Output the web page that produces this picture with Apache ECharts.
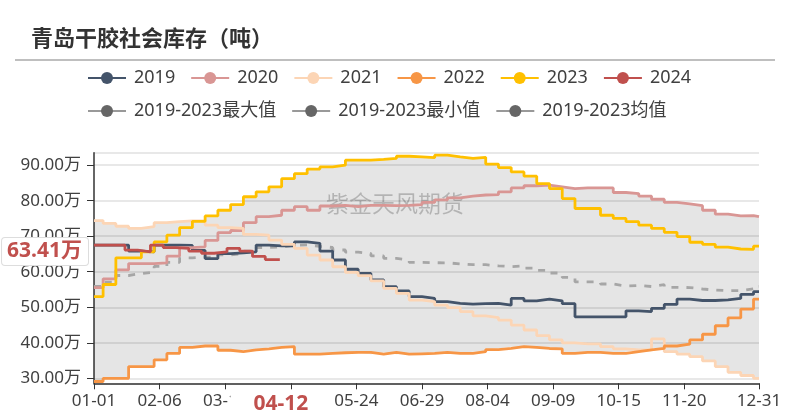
<!DOCTYPE html>
<html><head><meta charset="utf-8">
<script src="https://cdn.jsdelivr.net/npm/echarts@6/dist/echarts.min.js"></script>
<style>html,body{margin:0;padding:0;background:#fff}#c{width:790px;height:420px}</style>
</head><body><div id="c"></div>
<script>
const titleText = '青岛干胶社会库存（吨）';
const watermarkText = '紫金天风期货';
const seriesNames = ['2019','2020','2021','2022','2023','2024'];
const bandNames = ['2019-2023最大值','2019-2023最小值','2019-2023均值'];
// weekly inventory, unit: 万吨
const v2019 = [67.5,67.5,67.5,65.8,65.6,67.5,67.5,67.4,66.0,63.7,65.1,65.3,65.6,67.5,67.3,67.3,68.4,68.0,65.8,63.3,60.7,59.5,57.7,55.8,54.6,53.0,52.5,51.6,51.1,50.9,51.0,51.1,50.6,52.5,51.8,52.3,51.8,51.0,47.3,47.3,47.3,47.3,49.0,48.8,49.7,50.8,52.3,51.9,51.9,52.1,52.5,53.6,54.4];
const v2020 = [55.5,58.0,60.5,62.3,62.3,62.5,64.4,66.8,67.0,68.8,71.0,71.6,73.8,75.5,75.9,77.3,78.3,77.3,78.5,78.7,78.3,78.7,78.7,78.6,78.7,78.9,79.5,80.2,80.8,81.3,81.6,81.7,82.5,83.6,84.2,84.4,83.9,83.4,83.6,83.6,83.6,82.3,82.0,81.3,80.4,79.5,79.1,78.6,77.3,76.2,75.7,75.8,75.5];
const v2021 = [74.4,73.6,72.8,72.2,72.7,73.8,74.1,74.3,74.3,73.1,72.4,72.2,70.5,70.3,68.9,67.7,66.6,64.7,63.3,61.4,59.8,58.9,57.4,55.3,53.9,52.0,51.6,50.6,49.9,48.8,47.6,47.1,46.4,45.0,43.6,42.0,40.8,40.0,39.7,39.7,38.9,38.3,38.0,38.0,41.1,37.5,36.8,36.1,34.9,33.3,31.7,30.8,30.0];
const v2022 = [29.1,30.0,30.0,33.3,33.3,35.2,37.0,38.7,39.1,39.1,37.9,37.5,38.0,38.3,38.7,38.9,36.8,36.8,37.0,37.2,37.3,37.3,36.8,37.3,36.8,36.9,37.0,37.3,37.0,37.0,37.5,38.1,38.4,38.9,38.7,38.4,38.3,37.0,37.3,37.3,37.0,37.0,37.5,38.0,38.4,39.1,39.6,40.8,42.4,44.8,47.0,49.5,52.3];
const v2023 = [53.0,56.4,63.9,63.9,65.6,68.4,70.3,72.4,74.2,75.7,77.3,78.9,81.1,82.5,83.9,86.2,87.6,88.9,89.5,90.0,91.4,91.4,91.6,91.9,92.5,92.3,92.1,92.8,92.3,91.9,92.2,90.3,89.3,88.1,86.9,84.8,83.4,80.6,77.8,77.8,75.9,75.0,74.1,73.1,72.2,71.1,69.9,68.3,67.7,66.9,66.4,66.3,67.2];
const v2024 = [67.5,67.5,67.5,66.1,65.6,67.5,66.8,66.6,65.8,65.2,65.6,66.6,65.8,64.3,63.41];
const pointerDay = '04-12';
const pointerY = 65.7;

// daily categories (leap-year calendar)
const days = [];
for (let i = 0; i < 366; i++) {
  const d = new Date(Date.UTC(2024, 0, 1 + i));
  days.push(String(d.getUTCMonth() + 1).padStart(2, '0') + '-' + String(d.getUTCDate()).padStart(2, '0'));
}
const weekIdx = [0]; for (let d = 5; d <= 362; d += 7) weekIdx.push(d);
const weekIdx24 = [0]; for (let d = 3; d <= 94; d += 7) weekIdx24.push(d);
function toPoints(idxs, vals, endIdx) {
  const pts = idxs.map((d, i) => [days[d], vals[i]]);
  pts.push([days[endIdx], vals[vals.length - 1]]);
  return pts;
}
const years = [v2019, v2020, v2021, v2022, v2023];
const vMax = v2019.map((_, i) => Math.max(...years.map(a => a[i])));
const vMin = v2019.map((_, i) => Math.min(...years.map(a => a[i])));
const vAvg = v2019.map((_, i) => years.reduce((s, a) => s + a[i], 0) / years.length);
const vSpan = vMax.map((m, i) => m - vMin[i]);

const colors = ['#44546a', '#d99694', '#fcd5b5', '#f79646', '#ffc000', '#c0504d'];
const yearVals = [v2019, v2020, v2021, v2022, v2023, v2024];
const FONT = '"Noto Sans", "Noto Sans CJK SC", sans-serif';

const series = [
  { name: bandNames[1], type: 'line', step: 'end', stack: 'band', data: toPoints(weekIdx, vMin, 365),
    showSymbol: false, symbol: 'circle', lineStyle: { opacity: 0 }, itemStyle: { color: '#666' }, silent: true, z: 1 },
  { name: bandNames[0], type: 'line', step: 'end', stack: 'band', data: toPoints(weekIdx, vSpan, 365),
    showSymbol: false, symbol: 'circle', lineStyle: { opacity: 0 }, itemStyle: { color: '#666' },
    areaStyle: { color: 'rgba(0,0,0,0.1)', opacity: 1 }, silent: true, z: 1 },
  { name: bandNames[2], type: 'line', step: 'end', data: toPoints(weekIdx, vAvg, 365),
    showSymbol: false, symbol: 'circle', itemStyle: { color: '#666' },
    lineStyle: { color: '#a6a6a6', width: 2.8, type: [7, 8] }, z: 2 }
];
yearVals.forEach((vals, k) => {
  const is24 = k === 5;
  series.push({
    name: seriesNames[k], type: 'line', step: 'end',
    data: is24 ? toPoints(weekIdx24, vals, days.indexOf(pointerDay)) : toPoints(weekIdx, vals, 365),
    showSymbol: false, symbol: 'circle', itemStyle: { color: colors[k] },
    lineStyle: { color: colors[k], width: 2.8 }, z: 3
  });
});

const legendData = seriesNames.map(n => ({ name: n }))
  .concat(bandNames.map(n => ({ name: n, itemStyle: { color: '#666' }, lineStyle: { color: '#999', width: 2, opacity: 1, type: 'solid' } })));

const chart = echarts.init(document.getElementById('c'), null, { renderer: 'canvas' });
chart.setOption({
  animation: false,
  title: { text: titleText, left: 26, top: 22, textStyle: { fontSize: 22, fontWeight: 'bold', color: '#333', fontFamily: '"Noto Sans CJK SC", sans-serif' } },
  graphic: [
    { type: 'line', shape: { x1: 15, y1: 60, x2: 775, y2: 60 }, style: { stroke: '#aaa', lineWidth: 1.5 }, z: 10 },
    { type: 'text', x: 395, y: 203, z: 1, style: { text: watermarkText, fontSize: 23, fill: 'rgba(0,0,0,0.22)', align: 'center', verticalAlign: 'middle', fontFamily: '"Noto Sans CJK SC", sans-serif' } }
  ],
  legend: {
    data: legendData, left: 82, top: 64, width: 620, itemWidth: 38, itemHeight: 15, itemGap: 15,
    textStyle: { fontSize: 18, color: '#404040', fontFamily: FONT, padding: [0, 0, 0, 3] }
  },
  grid: { left: 94, right: 31, top: 152.7, bottom: 36.7, containLabel: false },
  xAxis: {
    type: 'category', data: days, boundaryGap: false,
    axisLine: { lineStyle: { color: '#333', width: 1.5 } },
    axisTick: { length: 6, lineStyle: { color: '#333' }, interval: (i) => (i % 36 === 0 && i <= 330) || i === 365 },
    axisLabel: { fontSize: 17, color: '#404040', fontFamily: FONT, margin: 9, interval: (i) => (i % 36 === 0 && i <= 330) || i === 365 },
    splitLine: { show: false },
    axisPointer: {
      show: true, type: 'line', value: days.indexOf(pointerDay), status: 'show', triggerTooltip: false,
      lineStyle: { color: 'rgba(0,0,0,0)' },
      label: { show: true, fontSize: 21, fontWeight: 'bold', color: '#c0504d', backgroundColor: '#fff', padding: [3, 21, 3, 23], margin: 7, fontFamily: FONT }
    }
  },
  yAxis: {
    type: 'value', min: 28.6, max: 93.5,
    axisLine: { show: true, lineStyle: { color: '#333', width: 1.5 } },
    axisTick: { show: true, length: 7, lineStyle: { color: '#333' } },
    axisLabel: { fontSize: 17, color: '#404040', fontFamily: FONT, margin: 13, showMinLabel: false, showMaxLabel: false,
      formatter: (v) => v.toFixed(2) + '万' },
    splitLine: { lineStyle: { color: '#e8e8e8', width: 2 } },
    axisPointer: {
      show: true, type: 'line', value: pointerY, status: 'show', triggerTooltip: false,
      lineStyle: { color: 'rgba(0,0,0,0)' },
      label: { show: true, fontSize: 21, fontWeight: 'bold', color: '#c0504d', backgroundColor: '#fff',
        borderColor: '#ddd', borderWidth: 1, padding: [3, 6, 3, 5], margin: 6, fontFamily: FONT,
        formatter: () => v2024[v2024.length - 1].toFixed(2) + '万' }
    }
  },
  series: series
});
</script></body></html>
